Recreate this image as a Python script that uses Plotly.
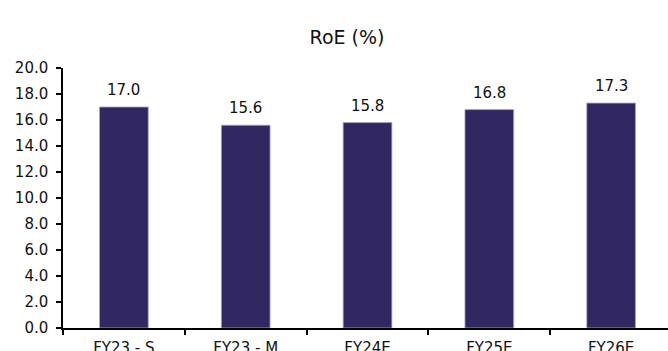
import plotly.graph_objects as go

categories = ["FY23 - S", "FY23 - M", "FY24E", "FY25E", "FY26E"]
roe_values = [17.0, 15.6, 15.8, 16.8, 17.3]
y_ticks = [0, 2, 4, 6, 8, 10, 12, 14, 16, 18, 20]

FONT = "Verdana, DejaVu Sans, sans-serif"
BAR_COLOR = "#312862"

fig = go.Figure()
fig.add_trace(go.Bar(
    x=categories,
    y=roe_values,
    width=0.4,
    marker=dict(color=BAR_COLOR, line=dict(color="#a9a4d0", width=0.8)),
    hoverinfo="skip",
))

# value labels above each bar
for cat, val in zip(categories, roe_values):
    fig.add_annotation(
        x=cat, y=val, text=f"{val:.1f}", showarrow=False,
        yanchor="bottom", yshift=6,
        font=dict(family=FONT, size=15, color="#111111"),
    )

fig.update_layout(
    width=668, height=351,
    margin=dict(l=63, r=0, t=68, b=23),
    paper_bgcolor="white", plot_bgcolor="white",
    showlegend=False,
    title=dict(
        text="RoE (%)", x=347 / 668, xref="container", xanchor="center",
        y=1 - 37 / 351, yref="container", yanchor="middle",
        font=dict(family=FONT, size=19, color="#111111"),
    ),
    font=dict(family=FONT, size=15, color="#111111"),
)

fig.update_xaxes(
    type="category",
    range=[-0.5, 4.467],
    tickson="boundaries",
    ticks="outside", ticklen=5, tickwidth=1.5, tickcolor="black",
    showline=True, linecolor="black", linewidth=1.5,
    showgrid=False, zeroline=False,
    automargin=False,
    ticklabelstandoff=5,
    tickfont=dict(family=FONT, size=15),
)
fig.update_yaxes(
    range=[0, 20],
    tickvals=y_ticks,
    ticktext=[f"{v:.1f}" for v in y_ticks],
    ticks="outside", ticklen=5, tickwidth=1.5, tickcolor="black",
    showline=True, linecolor="black", linewidth=1.5,
    showgrid=False, zeroline=False,
    automargin=False,
    ticklabelstandoff=5,
    tickfont=dict(family=FONT, size=15),
)

fig.write_html("out.html")
